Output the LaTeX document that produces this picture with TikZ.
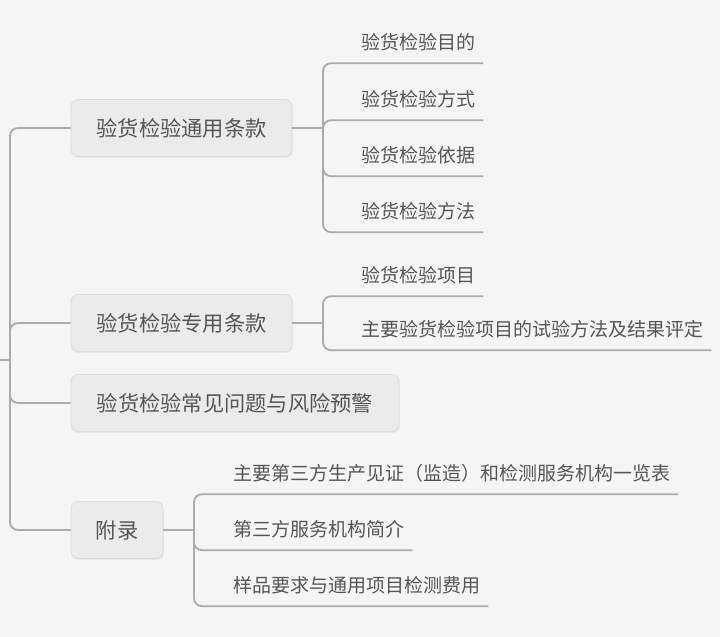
\documentclass[tikz,border=0pt]{standalone}
\usepackage{fontspec}
\usetikzlibrary{shadows}
\newfontfamily\cjk{Noto Sans CJK SC}
\definecolor{Canvas}{HTML}{F5F5F5}
\definecolor{Wire}{HTML}{ABABAB}
\definecolor{Box}{HTML}{EBEBEB}
\definecolor{BoxLine}{HTML}{DCDCDC}
\definecolor{Ink}{HTML}{555555}

\begin{document}
\begin{tikzpicture}[x=1pt,y=-1pt,every node/.style={text=Ink},
  topic/.style={font=\cjk\fontsize{21.25}{24}\selectfont,fill=Box,draw=BoxLine,line width=0.8pt,rounded corners=7pt,minimum height=57pt,inner xsep=0pt,drop shadow={opacity=0.12,shadow xshift=0.6pt,shadow yshift=-1.4pt}},
  leaf/.style={font=\cjk\fontsize{19}{22}\selectfont,anchor=west,inner xsep=0pt,minimum height=42pt},
  wire/.style={draw=Wire,line width=1.8pt,rounded corners=8pt}]
\fill[Canvas] (0,0) rectangle (720,637);
\useasboundingbox (0,0) rectangle (720,637);
% main topics
\node[topic,minimum width=221pt] (gen) at (181.5,128){验货检验通用条款};
\node[topic,minimum width=221pt] (spec) at (181.5,323){验货检验专用条款};
\node[topic,minimum width=328pt] (risk) at (235,403){验货检验常见问题与风险预警};
\node[topic,minimum width=92pt] (appx) at (117,530){附录};
% sub topics
\node[leaf] (gen1) at (361,42){验货检验目的};\node[leaf] (gen2) at (361,99){验货检验方式};
\node[leaf] (gen3) at (361,155){验货检验依据};\node[leaf] (gen4) at (361,211){验货检验方法};
\node[leaf] (spec1) at (361,275){验货检验项目};\node[leaf] (spec2) at (361,329){主要验货检验项目的试验方法及结果评定};
\node[leaf] (appx1) at (233,473){主要第三方生产见证（监造）和检测服务机构一览表};
\node[leaf] (appx2) at (233,529){第三方服务机构简介};\node[leaf] (appx3) at (233,585){样品要求与通用项目检测费用};
% connectors
\coordinate (root) at (0,360);\coordinate (hub) at (10,360);
\draw[wire] (root) -- (hub);
\foreach \t in {gen,spec,risk,appx}{\draw[wire] (hub) |- (\t.west);}
\coordinate (genj) at (323,128);\coordinate (specj) at (323,323);\coordinate (appxj) at (194,530);
\draw[wire] (gen.east) -- (genj);\draw[wire] (spec.east) -- (specj);\draw[wire] (appx.east) -- (appxj);
\foreach \i in {1,...,4}{\draw[wire] (genj) |- ([xshift=8pt]gen\i.south east);}
\foreach \i in {1,2}{\draw[wire] (specj) |- ([xshift=8pt]spec\i.south east);}
\foreach \i in {1,2,3}{\draw[wire] (appxj) |- ([xshift=8pt]appx\i.south east);}
\end{tikzpicture}
\end{document}
